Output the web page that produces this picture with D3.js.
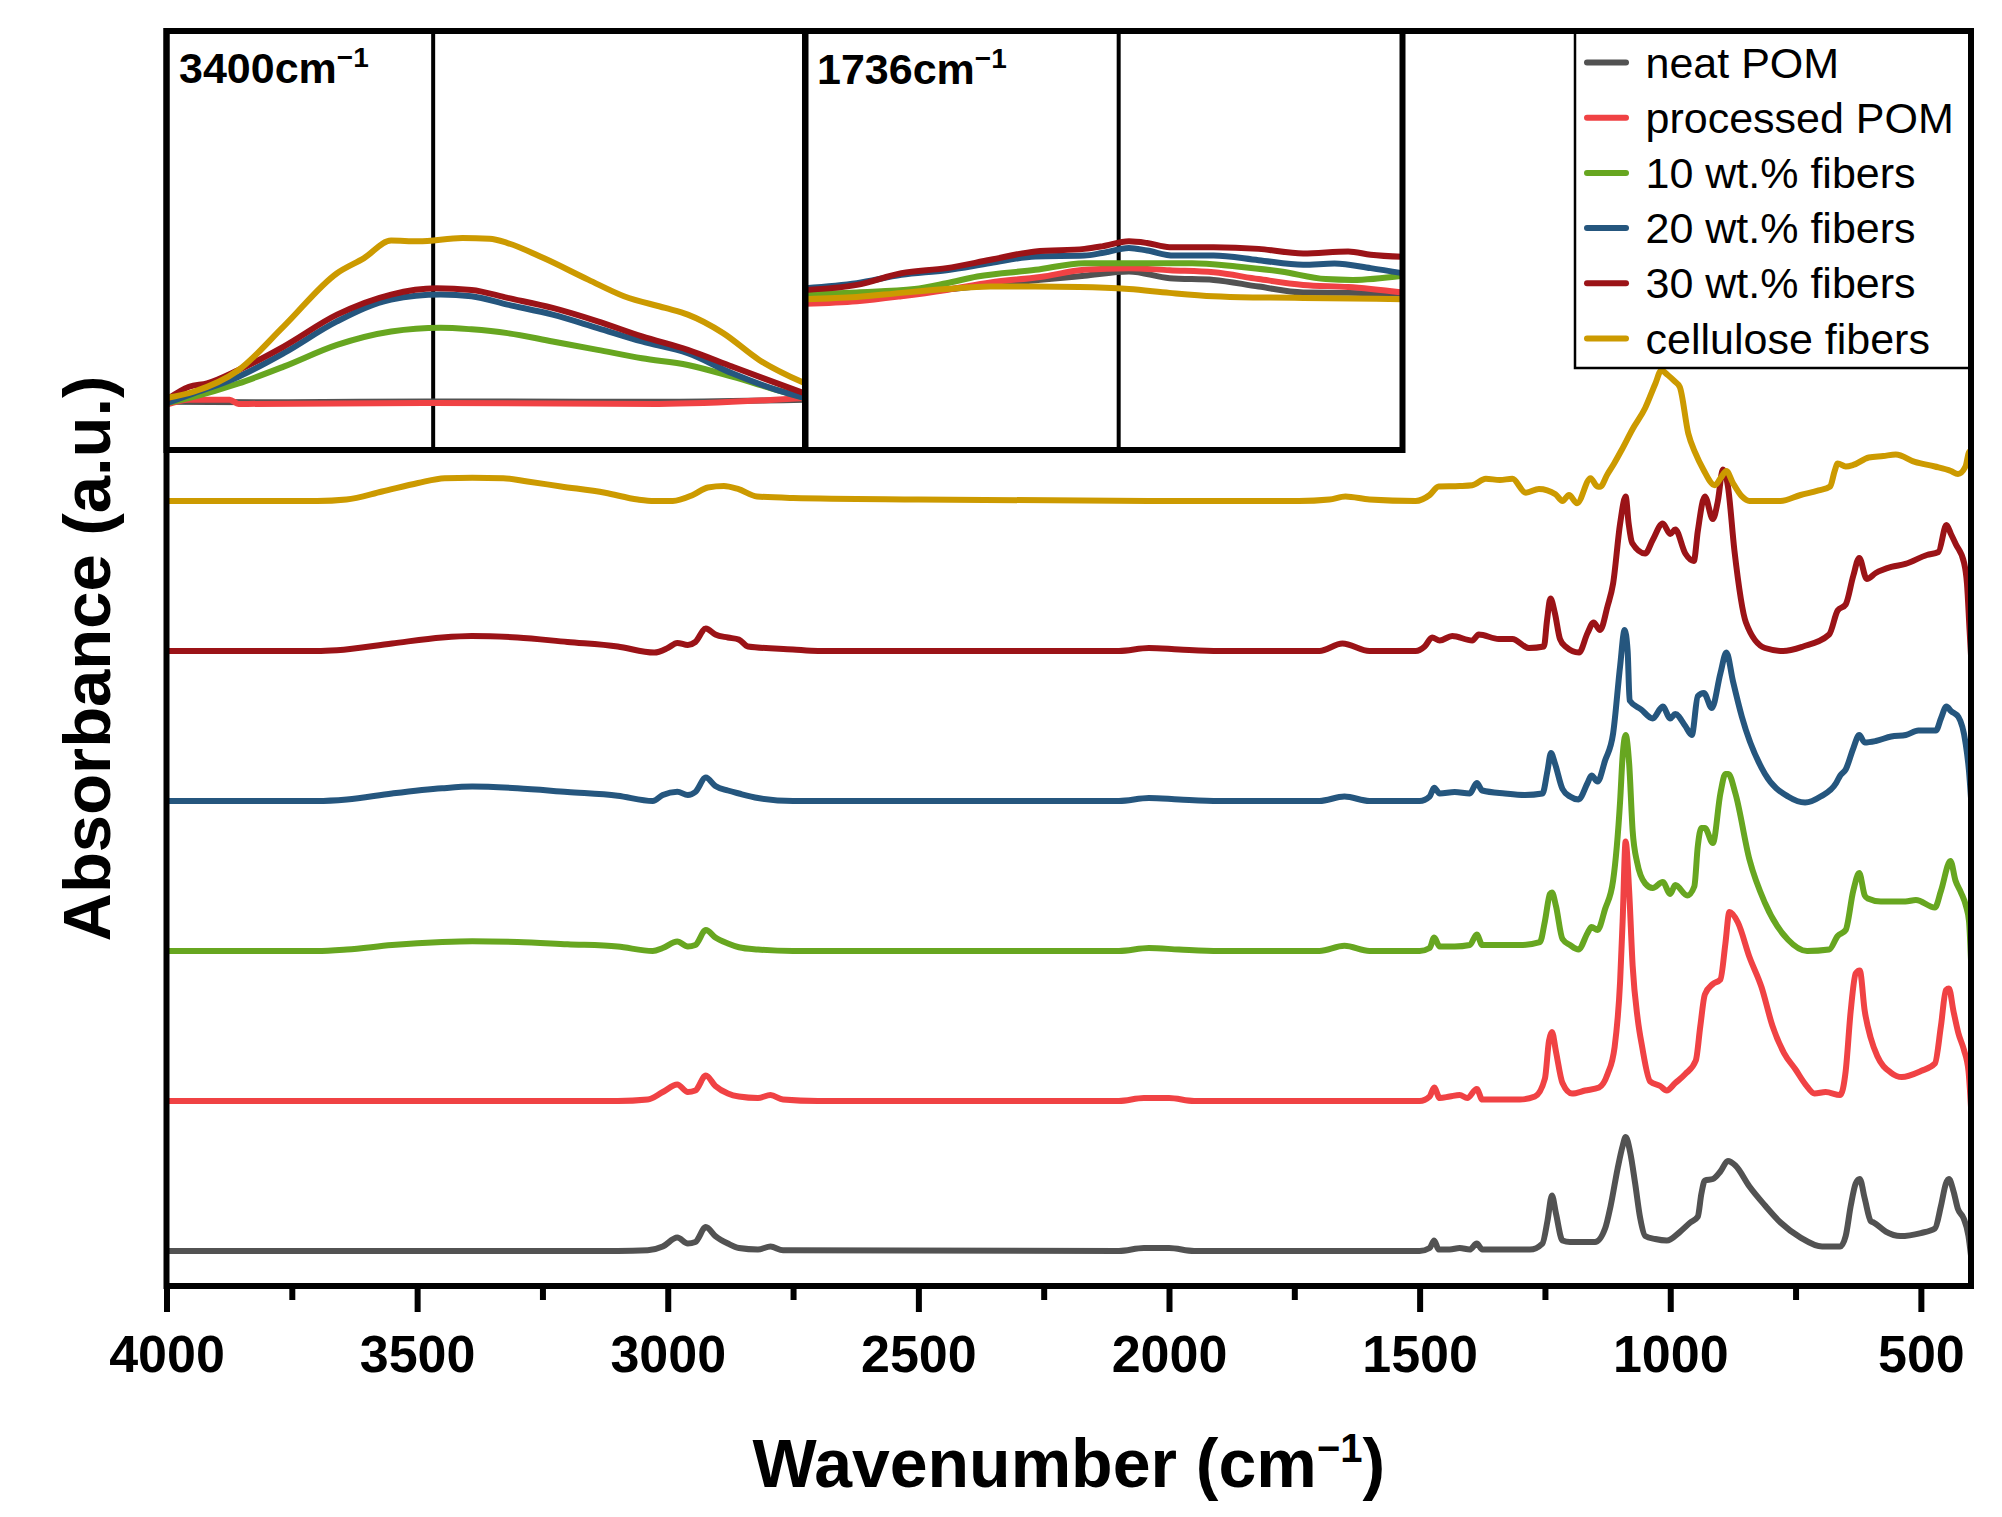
<!DOCTYPE html>
<html><head><meta charset="utf-8">
<script src="https://cdn.jsdelivr.net/npm/d3@7"></script>
<style>html,body{margin:0;padding:0;background:#fff;} svg{display:block;}</style>
</head><body>
<svg id="chart" width="2002" height="1517"></svg>
<script>
// ---------------- DATA ----------------
const seriesNames = ["neat POM", "processed POM", "10 wt.% fibers", "20 wt.% fibers", "30 wt.% fibers", "cellulose fibers"];
const seriesColors = ["#525252", "#f04244", "#67a620", "#25567e", "#9b1317", "#cc9a00"];
const seriesOffsets = [0, 1, 2, 3, 4, 5];
const xMajorTicks = [4000, 3500, 3000, 2500, 2000, 1500, 1000, 500];
const xMinorTicks = [3750, 3250, 2750, 2250, 1750, 1250, 750];
const insetLabels = ["3400cm", "1736cm"];
const insetMarkers = [3400, 1736];

// spectra: [wavenumber, absorbance (a.u., before offset)]
const neatPOM = [[4000,0],[3600,0],[3100,0],[3040,0.005],[3010,0.03],[2981,0.09],[2960,0.05],[2945,0.06],[2924,0.16],[2905,0.1],[2880,0.05],[2858,0.02],[2820,0.01],[2795,0.03],[2770,0.005],[2100,0],[2050,0.02],[2000,0.02],[1950,0],[1500,0],[1480,0.02],[1471,0.07],[1462,0.01],[1440,0.01],[1420,0.02],[1400,0.01],[1386,0.05],[1375,0.01],[1280,0.01],[1255,0.05],[1245,0.2],[1236,0.37],[1228,0.25],[1215,0.07],[1200,0.06],[1180,0.06],[1150,0.06],[1130,0.15],[1119,0.3],[1105,0.55],[1095,0.7],[1089,0.76],[1080,0.66],[1070,0.45],[1060,0.22],[1050,0.1],[1030,0.08],[1007,0.07],[980,0.13],[960,0.19],[945,0.23],[938,0.38],[931,0.47],[915,0.48],[900,0.53],[885,0.6],[870,0.57],[842,0.43],[810,0.3],[780,0.19],[740,0.09],[697,0.03],[661,0.03],[650,0.1],[640,0.3],[630,0.45],[622,0.48],[612,0.35],[600,0.2],[594,0.19],[570,0.13],[541,0.1],[500,0.12],[472,0.15],[460,0.3],[450,0.45],[444,0.48],[435,0.4],[426,0.28],[415,0.22],[405,0.1],[400,-0.03]];
const processedPOM = [[4000,0],[3100,0],[3040,0.01],[3010,0.06],[2981,0.11],[2960,0.06],[2945,0.07],[2924,0.17],[2905,0.1],[2880,0.05],[2858,0.03],[2820,0.02],[2795,0.04],[2770,0.01],[2700,0],[2100,0],[2050,0.02],[2000,0.02],[1950,0],[1500,0],[1480,0.03],[1471,0.09],[1460,0.02],[1440,0.03],[1420,0.04],[1405,0.02],[1386,0.08],[1375,0.01],[1300,0.01],[1270,0.03],[1250,0.15],[1242,0.4],[1236,0.46],[1228,0.33],[1215,0.12],[1196,0.05],[1170,0.07],[1142,0.09],[1125,0.18],[1111,0.36],[1100,0.8],[1095,1.2],[1089,1.73],[1082,1.4],[1075,0.9],[1065,0.55],[1056,0.36],[1040,0.13],[1020,0.1],[1007,0.07],[990,0.12],[970,0.18],[949,0.27],[940,0.5],[931,0.71],[915,0.78],[900,0.81],[890,1.05],[882,1.26],[865,1.19],[842,0.96],[818,0.76],[796,0.5],[773,0.32],[750,0.21],[730,0.11],[712,0.05],[690,0.06],[661,0.04],[650,0.2],[640,0.6],[630,0.85],[622,0.87],[612,0.6],[600,0.42],[587,0.3],[560,0.19],[538,0.16],[500,0.2],[472,0.25],[460,0.5],[450,0.74],[444,0.75],[435,0.6],[425,0.45],[414,0.34],[405,0.2],[400,-0.04]];
const fibers10 = [[4000,0],[3700,0],[3640,0.01],[3550,0.04],[3450,0.06],[3390,0.065],[3300,0.06],[3200,0.045],[3100,0.03],[3030,0],[3010,0.02],[2981,0.063],[2960,0.03],[2945,0.04],[2924,0.14],[2905,0.09],[2880,0.05],[2858,0.025],[2820,0.01],[2750,0],[2100,0],[2040,0.02],[1980,0.01],[1900,0],[1700,0],[1650,0.035],[1600,0],[1500,0],[1480,0.02],[1471,0.09],[1460,0.03],[1430,0.03],[1400,0.04],[1386,0.11],[1375,0.04],[1300,0.04],[1260,0.06],[1250,0.2],[1240,0.38],[1236,0.39],[1228,0.3],[1215,0.08],[1200,0.04],[1183,0.01],[1165,0.12],[1157,0.16],[1145,0.14],[1130,0.28],[1114,0.47],[1100,1.0],[1095,1.3],[1089,1.44],[1082,1.25],[1075,0.8],[1066,0.59],[1050,0.45],[1035,0.42],[1015,0.46],[1000,0.38],[990,0.44],[966,0.37],[952,0.43],[945,0.7],[938,0.82],[931,0.82],[915,0.72],[900,1.05],[890,1.18],[884,1.18],[870,1.05],[842,0.61],[811,0.32],[765,0.075],[727,0],[683,0.01],[666,0.1],[650,0.14],[635,0.4],[623,0.52],[612,0.37],[606,0.35],[580,0.33],[559,0.33],[531,0.33],[510,0.34],[472,0.29],[460,0.4],[441,0.6],[431,0.47],[420,0.39],[410,0.3],[404,0.2],[400,-0.06]];
const fibers20 = [[4000,0],[3700,0],[3640,0.01],[3550,0.05],[3450,0.085],[3390,0.096],[3300,0.085],[3200,0.06],[3100,0.035],[3030,0],[3010,0.04],[2981,0.062],[2960,0.04],[2945,0.06],[2924,0.156],[2905,0.1],[2880,0.07],[2858,0.05],[2820,0.02],[2750,0],[2100,0],[2040,0.02],[1980,0.01],[1900,0],[1700,0],[1650,0.03],[1600,0],[1500,0],[1480,0.03],[1471,0.088],[1460,0.05],[1430,0.06],[1400,0.05],[1386,0.12],[1375,0.07],[1330,0.05],[1290,0.04],[1255,0.05],[1245,0.2],[1238,0.32],[1230,0.25],[1215,0.08],[1200,0.03],[1183,0.01],[1165,0.12],[1157,0.17],[1145,0.13],[1130,0.27],[1114,0.45],[1100,0.9],[1091,1.14],[1085,1.0],[1081,0.67],[1058,0.61],[1035,0.55],[1015,0.63],[1000,0.55],[990,0.58],[970,0.5],[957,0.44],[945,0.7],[933,0.72],[917,0.62],[900,0.85],[888,0.99],[875,0.8],[857,0.56],[811,0.18],[765,0.03],[731,-0.01],[700,0.03],[669,0.12],[661,0.17],[650,0.21],[635,0.35],[623,0.44],[612,0.39],[590,0.4],[559,0.43],[530,0.44],[505,0.47],[470,0.47],[460,0.55],[449,0.63],[440,0.6],[425,0.56],[411,0.39],[404,0.2],[400,0.02]];
const fibers30 = [[4000,0],[3700,0],[3660,0.005],[3550,0.05],[3450,0.09],[3391,0.1],[3300,0.09],[3200,0.06],[3100,0.03],[3027,-0.01],[3000,0.02],[2981,0.054],[2960,0.04],[2945,0.06],[2924,0.15],[2905,0.11],[2880,0.09],[2858,0.076],[2840,0.03],[2750,0.01],[2700,0],[2100,0],[2040,0.02],[1980,0.01],[1900,0],[1700,0],[1654,0.05],[1600,0],[1508,0],[1490,0.03],[1475,0.09],[1460,0.07],[1435,0.1],[1395,0.07],[1382,0.11],[1342,0.08],[1315,0.08],[1282,0.02],[1252,0.03],[1246,0.2],[1239,0.35],[1230,0.25],[1220,0.08],[1209,0.03],[1182,-0.01],[1165,0.12],[1153,0.19],[1140,0.14],[1125,0.3],[1114,0.45],[1100,0.85],[1089,1.03],[1083,0.85],[1076,0.72],[1050,0.65],[1035,0.74],[1015,0.85],[1000,0.78],[990,0.81],[970,0.65],[953,0.6],[945,0.8],[931,1.03],[915,0.88],[905,1.0],[895,1.21],[885,1.1],[872,0.67],[849,0.19],[811,0.02],[775,0],[735,0.03],[683,0.11],[666,0.27],[650,0.31],[635,0.5],[623,0.62],[608,0.48],[590,0.52],[559,0.56],[531,0.58],[488,0.64],[465,0.66],[449,0.84],[440,0.78],[430,0.71],[414,0.59],[408,0.45],[403,0.15],[400,-0.03]];
const cellulose = [[4000,0],[3700,0],[3641,0.01],[3570,0.063],[3498,0.12],[3445,0.152],[3390,0.155],[3328,0.152],[3280,0.13],[3213,0.097],[3125,0.055],[3060,0.01],[3027,0],[2990,0],[2950,0.04],[2920,0.09],[2888,0.1],[2860,0.08],[2822,0.03],[2750,0.02],[2500,0.01],[2000,0],[1741,0],[1680,0.01],[1648,0.03],[1600,0.01],[1508,0],[1480,0.04],[1462,0.097],[1420,0.1],[1395,0.105],[1368,0.148],[1340,0.14],[1315,0.148],[1288,0.055],[1262,0.08],[1229,0.045],[1215,0],[1202,0.04],[1186,-0.015],[1159,0.152],[1146,0.098],[1140,0.095],[1125,0.18],[1112,0.25],[1097,0.34],[1075,0.48],[1050,0.62],[1030,0.78],[1018,0.87],[1005,0.84],[992,0.8],[981,0.76],[964,0.45],[950,0.32],[934,0.21],[911,0.105],[900,0.15],[888,0.2],[875,0.12],[857,0.03],[842,0],[780,0],[740,0.04],[704,0.07],[681,0.097],[672,0.2],[666,0.25],[650,0.23],[635,0.24],[604,0.29],[575,0.3],[550,0.31],[512,0.26],[472,0.23],[440,0.2],[426,0.18],[411,0.23],[403,0.33],[400,0.25]];

// insets (local scale 0..1)
const inset1NeatPOM = [[3755,0.115],[3600,0.114],[3400,0.116],[3100,0.115],[2905,0.12]];
const inset1Processed = [[3755,0.108],[3725,0.12],[3671,0.12],[3659,0.11],[3400,0.112],[3100,0.11],[2905,0.124]];
const inset1Fibers10 = [[3755,0.112],[3719,0.127],[3659,0.159],[3599,0.199],[3528,0.251],[3456,0.283],[3390,0.292],[3349,0.288],[3301,0.279],[3241,0.259],[3181,0.239],[3122,0.219],[3061,0.203],[3002,0.175],[2942,0.143],[2905,0.124]];
const inset1Fibers20 = [[3755,0.112],[3719,0.135],[3659,0.175],[3599,0.231],[3528,0.307],[3456,0.359],[3390,0.371],[3349,0.367],[3301,0.347],[3241,0.323],[3181,0.291],[3122,0.259],[3061,0.231],[3002,0.183],[2942,0.143],[2905,0.124]];
const inset1Fibers30 = [[3755,0.12],[3725,0.151],[3701,0.159],[3659,0.191],[3599,0.247],[3528,0.323],[3456,0.371],[3396,0.386],[3349,0.382],[3301,0.363],[3241,0.339],[3181,0.307],[3122,0.271],[3061,0.239],[3002,0.199],[2942,0.159],[2905,0.135]];
const inset1Cellulose = [[3755,0.124],[3719,0.139],[3659,0.191],[3599,0.295],[3528,0.422],[3492,0.458],[3456,0.5],[3420,0.498],[3361,0.506],[3325,0.504],[3301,0.494],[3253,0.458],[3193,0.406],[3146,0.367],[3091,0.339],[3061,0.323],[3014,0.279],[2966,0.215],[2905,0.159]];

const inset2NeatPOM = [[1800,0.363],[1775.8,0.378],[1762.2,0.394],[1752,0.406],[1743,0.416],[1733.9,0.426],[1725.6,0.41],[1716.6,0.406],[1707.4,0.39],[1698.3,0.376],[1689.1,0.375],[1678,0.373]];
const inset2Processed = [[1800,0.349],[1789.5,0.355],[1780.4,0.367],[1771.2,0.382],[1762.2,0.4],[1752,0.413],[1743,0.43],[1733.9,0.434],[1725.6,0.429],[1716.6,0.424],[1707.4,0.408],[1698.3,0.394],[1689.1,0.389],[1678,0.376]];
const inset2Fibers10 = [[1800,0.371],[1789.5,0.376],[1777.7,0.384],[1771.2,0.398],[1764.9,0.414],[1753,0.43],[1743,0.446],[1733.9,0.446],[1721,0.446],[1711.9,0.438],[1702.8,0.426],[1693.7,0.408],[1688.2,0.406],[1678,0.416]];
const inset2Fibers20 = [[1800,0.386],[1789.5,0.398],[1780.4,0.418],[1771.2,0.429],[1762.2,0.446],[1753,0.462],[1743,0.464],[1739.4,0.47],[1733.9,0.482],[1730.2,0.476],[1724.7,0.464],[1716.6,0.464],[1707.4,0.453],[1698.3,0.442],[1691.9,0.445],[1684.5,0.434],[1678,0.422]];
const inset2Fibers30 = [[1800,0.382],[1789.5,0.394],[1780.4,0.422],[1771.2,0.434],[1762.2,0.454],[1753,0.474],[1743,0.48],[1739.4,0.486],[1733.9,0.498],[1730.2,0.494],[1725.6,0.484],[1716.6,0.484],[1707.4,0.48],[1698.3,0.469],[1689.1,0.474],[1684.5,0.466],[1678,0.461]];
const inset2Cellulose = [[1800,0.36],[1789.5,0.365],[1780.4,0.375],[1771.2,0.384],[1762.2,0.39],[1753,0.39],[1744,0.389],[1733.9,0.384],[1725.6,0.375],[1716.6,0.367],[1707.4,0.364],[1698.3,0.363],[1678,0.36]];

const mainSeries = [neatPOM, processedPOM, fibers10, fibers20, fibers30, cellulose];
const inset1Series = [inset1NeatPOM, inset1Processed, inset1Fibers10, inset1Fibers20, inset1Fibers30, inset1Cellulose];
const inset2Series = [inset2NeatPOM, inset2Processed, inset2Fibers10, inset2Fibers20, inset2Fibers30, inset2Cellulose];
const inset1Domain = [3755, 2905];
const inset2Domain = [1800, 1678];

// ---------------- LAYOUT ----------------
const FONT = "'Liberation Sans', Arial, Helvetica, sans-serif";
const L = 166.5, R = 1971, T = 31, B = 1286;
const svg = d3.select("#chart");

const x = d3.scaleLinear().domain([4000, 400]).range([L, R]);
const y = d3.scaleLinear().domain([-0.233, 8.133]).range([B, T]);

const defs = svg.append("defs");
defs.append("clipPath").attr("id", "clipMain").append("rect")
  .attr("x", L).attr("y", T).attr("width", R - L).attr("height", B - T);

const line = d3.line().curve(d3.curveMonotoneX);

// main traces
const gMain = svg.append("g").attr("clip-path", "url(#clipMain)");
mainSeries.forEach((s, i) => {
  gMain.append("path")
    .attr("d", line.x(d => x(d[0])).y(d => y(d[1] + seriesOffsets[i]))(s))
    .attr("fill", "none").attr("stroke", seriesColors[i])
    .attr("stroke-width", 6).attr("stroke-linejoin", "round").attr("stroke-linecap", "round");
});

// insets
const insets = [
  {x0: L, x1: 805, domain: inset1Domain, data: inset1Series, label: insetLabels[0], marker: insetMarkers[0], lx: 179, ly: 83, id: "clipI1"},
  {x0: 805.5, x1: 1402.5, domain: inset2Domain, data: inset2Series, label: insetLabels[1], marker: insetMarkers[1], lx: 817, ly: 84, id: "clipI2"}
];
const iTop = T, iBot = 450;
insets.forEach(ins => {
  const xs = d3.scaleLinear().domain(ins.domain).range([ins.x0, ins.x1]);
  const ys = d3.scaleLinear().domain([0, 1]).range([iBot, iTop]);
  defs.append("clipPath").attr("id", ins.id).append("rect")
    .attr("x", ins.x0).attr("y", iTop).attr("width", ins.x1 - ins.x0).attr("height", iBot - iTop);
  const g = svg.append("g");
  g.append("rect").attr("x", ins.x0).attr("y", iTop).attr("width", ins.x1 - ins.x0).attr("height", iBot - iTop).attr("fill", "#fff");
  g.append("line").attr("x1", xs(ins.marker)).attr("x2", xs(ins.marker)).attr("y1", iTop).attr("y2", iBot)
    .attr("stroke", "#000").attr("stroke-width", 4);
  const gl = g.append("g").attr("clip-path", `url(#${ins.id})`);
  ins.data.forEach((s, i) => {
    gl.append("path")
      .attr("d", d3.line().curve(d3.curveMonotoneX).x(d => xs(d[0])).y(d => ys(d[1]))(s))
      .attr("fill", "none").attr("stroke", seriesColors[i])
      .attr("stroke-width", 6).attr("stroke-linejoin", "round");
  });
  g.append("rect").attr("x", ins.x0).attr("y", iTop).attr("width", ins.x1 - ins.x0).attr("height", iBot - iTop)
    .attr("fill", "none").attr("stroke", "#000").attr("stroke-width", 6);
  const t = g.append("text").attr("x", ins.lx).attr("y", ins.ly)
    .attr("font-family", FONT).attr("font-weight", "bold").attr("font-size", 43).attr("fill", "#000");
  t.append("tspan").text(ins.label);
  t.append("tspan").attr("font-size", 28).attr("dy", -16).text("\u22121");
});

// legend
const legX0 = 1575, legY0 = T, legX1 = R, legY1 = 368;
const gLeg = svg.append("g");
gLeg.append("rect").attr("x", legX0).attr("y", legY0).attr("width", legX1 - legX0).attr("height", legY1 - legY0)
  .attr("fill", "#fff").attr("stroke", "#000").attr("stroke-width", 2.5);
seriesNames.forEach((n, i) => {
  const ry = 62.5 + i * 55.2;
  gLeg.append("line").attr("x1", 1587).attr("x2", 1626).attr("y1", ry).attr("y2", ry)
    .attr("stroke", seriesColors[i]).attr("stroke-width", 6).attr("stroke-linecap", "round");
  gLeg.append("text").attr("x", 1645.5).attr("y", ry + 15)
    .attr("font-family", FONT).attr("font-size", 43).attr("fill", "#000").text(n);
});

// frame
svg.append("rect").attr("x", L).attr("y", T).attr("width", R - L).attr("height", B - T)
  .attr("fill", "none").attr("stroke", "#000").attr("stroke-width", 6);

// axes
const axMajor = svg.append("g").attr("transform", `translate(0,${B})`)
  .call(d3.axisBottom(x).tickValues(xMajorTicks).tickSize(26).tickPadding(23).tickFormat(d3.format("d")));
axMajor.select(".domain").remove();
axMajor.selectAll(".tick line").attr("stroke", "#000").attr("stroke-width", 6);
axMajor.selectAll(".tick text").attr("font-family", FONT).attr("font-size", 52).attr("font-weight", "bold").attr("fill", "#000");

const axMinor = svg.append("g").attr("transform", `translate(0,${B})`)
  .call(d3.axisBottom(x).tickValues(xMinorTicks).tickSize(14).tickFormat(""));
axMinor.select(".domain").remove();
axMinor.selectAll(".tick line").attr("stroke", "#000").attr("stroke-width", 6);

// titles
const xt = svg.append("text").attr("x", (L + R) / 2).attr("y", 1487).attr("text-anchor", "middle")
  .attr("font-family", FONT).attr("font-size", 68).attr("font-weight", "bold").attr("fill", "#000");
xt.append("tspan").text("Wavenumber (cm");
xt.append("tspan").attr("font-size", 40).attr("dy", -25).text("\u22121");
xt.append("tspan").attr("dy", 25).text(")");

svg.append("text").attr("transform", `translate(110,${(T + B) / 2}) rotate(-90)`).attr("text-anchor", "middle")
  .attr("font-family", FONT).attr("font-size", 67).attr("font-weight", "bold").attr("fill", "#000")
  .text("Absorbance (a.u.)");
</script></body></html>
